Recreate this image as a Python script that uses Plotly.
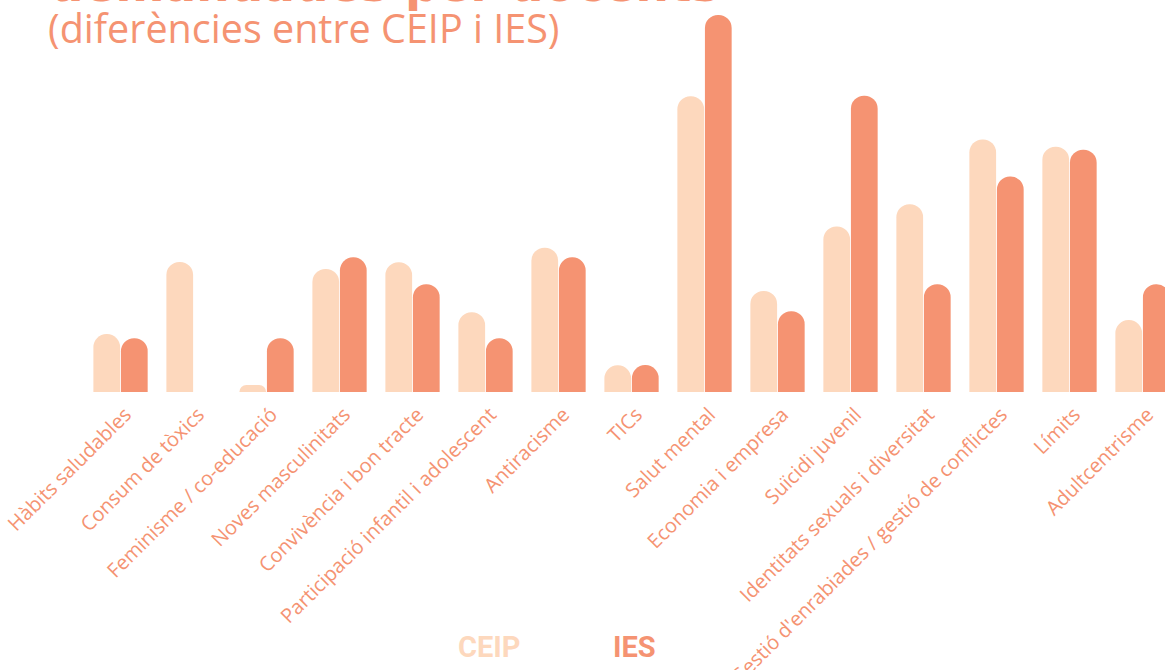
import plotly.graph_objects as go

categories = [
    "Hàbits saludables", "Consum de tòxics", "Feminisme / co-educació",
    "Noves masculinitats", "Convivència i bon tracte",
    "Participació infantil i adolescent", "Antiracisme", "TICs",
    "Salut mental", "Economia i empresa", "Suïcidi juvenil",
    "Identitats sexuals i diversitat",
    "Gestió d'enrabiades / gestió de conflictes", "Límits", "Adultcentrisme",
]
ceip = [2.15, 4.83, 0.26, 4.57, 4.82, 2.96, 5.36, 0.99, 10.98, 3.75, 6.15, 6.97, 9.38, 9.11, 2.67]
ies = [2, 0, 2, 5, 4, 2, 5, 1, 14, 3, 11, 4, 8, 9, 4]
series_names = ["CEIP", "IES"]

C_CEIP = "#FDD8BD"
C_IES = "#F59372"
TXT = "#F59372"

fig = go.Figure()
fig.add_trace(go.Bar(x=categories, y=ceip, name=series_names[0],
                     marker=dict(color=C_CEIP, line=dict(width=0))))
fig.add_trace(go.Bar(x=categories, y=ies, name=series_names[1],
                     marker=dict(color=C_IES, line=dict(width=0))))

W, H = 1165, 670
plot_h = 392
fig.update_layout(
    width=W, height=H,
    margin=dict(l=0, r=0, t=0, b=H - plot_h, pad=0, autoexpand=False),
    paper_bgcolor="white", plot_bgcolor="white",
    barmode="group", bargap=0.245, bargroupgap=0.03,
    barcornerradius="50%",
    showlegend=False,
    font=dict(family="Open Sans", color=TXT),
    xaxis=dict(range=[-1.651, 14.308], tickangle=-45, showgrid=False,
               showline=False, zeroline=False, ticks="", automargin=False,
               ticklabelstandoff=6, ticklabelshift=5,
               tickfont=dict(family="Open Sans", size=20, color=TXT)),
    yaxis=dict(range=[0, 392 / 26.93], visible=False, fixedrange=True,
               automargin=False),
)

fig.add_annotation(text="demandades per docents", xref="paper", yref="paper",
                   x=48 / W, y=1, xanchor="left", yanchor="bottom", yshift=-14,
                   showarrow=False,
                   font=dict(family="DejaVu Sans", size=47, color=TXT, weight="bold"))
fig.add_annotation(text="(diferències entre CEIP i IES)", xref="paper", yref="paper",
                   x=46 / W, y=1, xanchor="left", yanchor="top", yshift=1,
                   showarrow=False,
                   font=dict(family="Open Sans", size=39.5, color=TXT))
fig.add_annotation(text="<b>" + series_names[0] + "</b>", xref="paper", yref="paper",
                   x=489.5 / W, y=(plot_h - 647) / plot_h, xanchor="center", yanchor="middle",
                   showarrow=False,
                   font=dict(family="Roboto", size=29, color=C_CEIP))
fig.add_annotation(text="<b>" + series_names[1] + "</b>", xref="paper", yref="paper",
                   x=634.5 / W, y=(plot_h - 647) / plot_h, xanchor="center", yanchor="middle",
                   showarrow=False,
                   font=dict(family="Roboto", size=29, color=C_IES))

fig.write_html("out.html", config={"displayModeBar": False},
               post_script="document.body.style.margin='0';")
